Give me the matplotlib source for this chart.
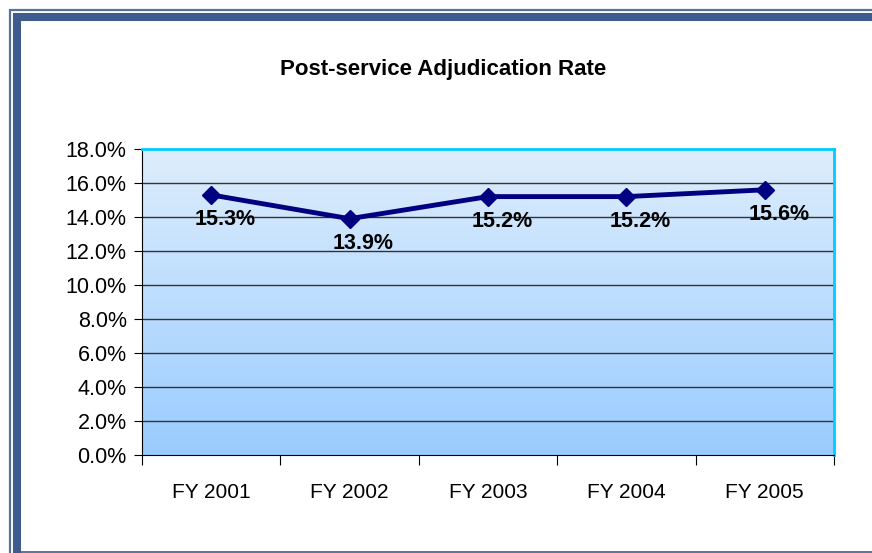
import numpy as np
import matplotlib.pyplot as plt
from matplotlib.lines import Line2D
from matplotlib.ticker import FuncFormatter

years = ["FY 2001", "FY 2002", "FY 2003", "FY 2004", "FY 2005"]
rates = [15.3, 13.9, 15.2, 15.2, 15.6]
labels = ["15.3%", "13.9%", "15.2%", "15.2%", "15.6%"]
yticks = [0, 2, 4, 6, 8, 10, 12, 14, 16, 18]

W, H = 872, 553
plt.rcParams['font.family'] = ['Liberation Sans', 'DejaVu Sans']
fig = plt.figure(figsize=(W / 100, H / 100), dpi=100)

# frame around the chart (pixel coords)
def fline(x0, y0, x1, y1, lw, color):
    fig.add_artist(Line2D([x0 / W, x1 / W], [1 - y0 / H, 1 - y1 / H],
                          transform=fig.transFigure, lw=lw, color=color,
                          solid_capstyle='butt'))

frame = '#3f5a8c'
fline(9, 9.5, W, 9.5, 1.6, '#5a6f9a')
fline(9.5, 9, 9.5, H, 1.6, '#5a6f9a')
fline(13, 17, W, 17, 5.8, frame)
fline(17, 13, 17, H, 5.8, frame)
fline(20, 552, W, 552, 1.2, frame)

ax = fig.add_axes([142 / W, 1 - 455 / H, (834 - 142) / W, (455 - 149) / H])
x = np.arange(len(years))
ax.set_xlim(-0.5, len(years) - 0.5)
ax.set_ylim(0, 18)

# vertical gradient background, light at top
grad = np.linspace(0, 1, 256).reshape(-1, 1)
top = np.array([0.87, 0.93, 0.99])
bot = np.array([0.60, 0.80, 1.00])
img = top + (bot - top) * grad[:, :, None] * np.ones((1, 1, 3))
ax.imshow(img, extent=[-0.5, len(years) - 0.5, 0, 18], origin='upper',
          aspect='auto', zorder=0)

for t in yticks[1:-1]:
    ax.axhline(t, color='#333333', lw=1.0, zorder=1)

ax.plot(x, rates, color='#000080', lw=3.5, marker='D', markersize=9, zorder=3)
for xi, r, lab in zip(x, rates, labels):
    ax.annotate(lab, (xi, r), xytext=(14, -25), textcoords='offset pixels',
                ha='center', va='center', fontsize=15.5, fontweight='bold', zorder=4)

ax.set_yticks(yticks)
ax.yaxis.set_major_formatter(FuncFormatter(lambda v, p: f"{v:.1f}%"))
ax.set_xticks(np.arange(len(years) + 1) - 0.5, minor=False)
ax.set_xticklabels([])
ax.set_xticks(x, minor=True)
ax.set_xticklabels(years, minor=True)
ax.tick_params(axis='x', which='minor', length=0, pad=20, labelsize=15)
ax.tick_params(axis='x', which='major', length=7, direction='out', color='black')
ax.tick_params(axis='y', length=6, direction='out', labelsize=15.5, pad=5)

ax.spines['top'].set_color('#00ccff')
ax.spines['right'].set_color('#00ccff')
ax.spines['top'].set_linewidth(2)
ax.spines['right'].set_linewidth(2)
ax.spines['left'].set_color('black')
ax.spines['bottom'].set_color('black')

fig.text(443 / W, 1 - 69 / H, "Post-service Adjudication Rate", ha='center',
         va='center', fontsize=16, fontweight='bold')

fig.savefig('out.png', dpi=100)
